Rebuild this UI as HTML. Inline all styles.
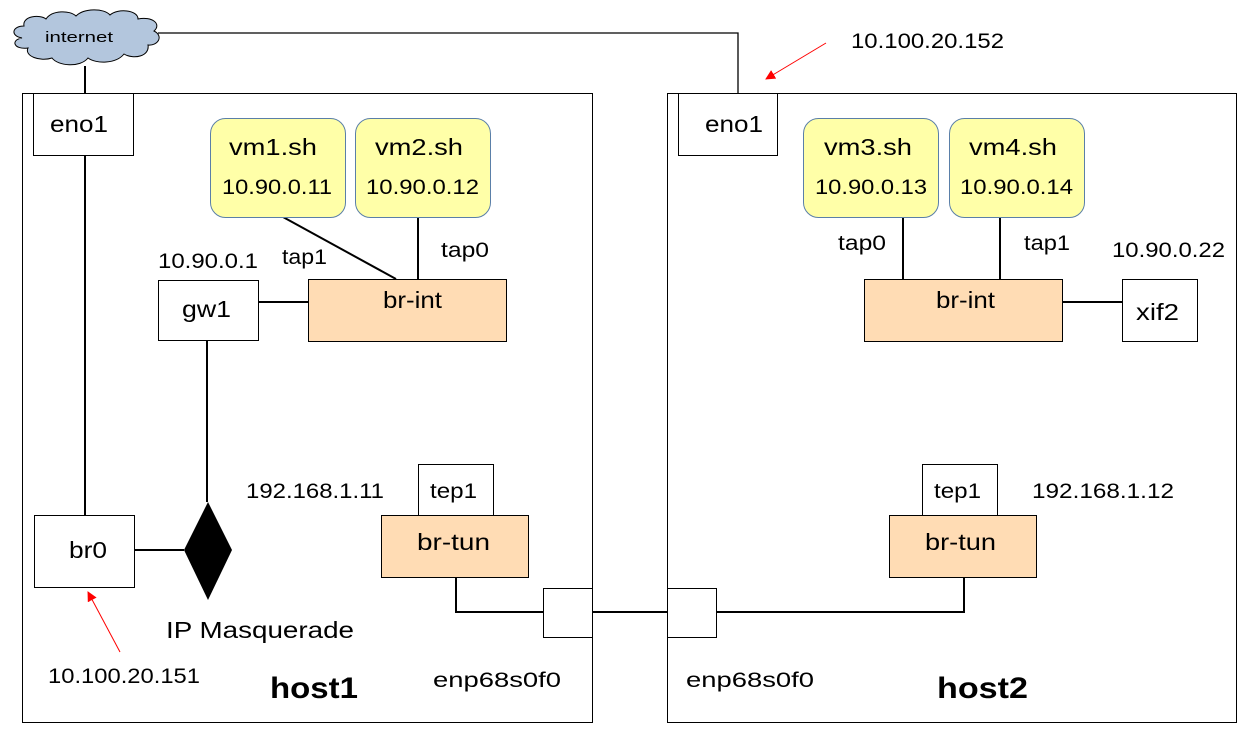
<!DOCTYPE html>
<html><head><style>body{margin:0;background:#fff}svg{display:block}text{font-family:"Liberation Sans",Arial,sans-serif;fill:#000}</style></head>
<body>
<svg width="1252" height="738" viewBox="0 0 1252 738" xmlns="http://www.w3.org/2000/svg">
<defs><marker id="ar" markerWidth="10" markerHeight="10" refX="9" refY="5" orient="auto" markerUnits="userSpaceOnUse"><path d="M0,0 L10,5 L0,10 z" fill="#f00"/></marker></defs>
<g fill="none" stroke="#000" stroke-width="1">
<rect x="22.5" y="93.5" width="570" height="629"/>
<rect x="667.5" y="93.5" width="569" height="629"/>
</g>
<g stroke="#000" stroke-width="2" fill="none">
<polyline points="158,33 738,33 738,93" stroke-width="1.3"/>
<line x1="85" y1="66" x2="85" y2="93"/>
<line x1="85" y1="155" x2="85" y2="515"/>
<line x1="134" y1="550" x2="184" y2="550"/>
<line x1="207" y1="340" x2="207" y2="502"/>
<line x1="258" y1="302" x2="308" y2="302"/>
<line x1="283" y1="217" x2="396" y2="279"/>
<line x1="418" y1="217" x2="418" y2="279"/>
<polyline points="456,577 456,612 543,612"/>
<line x1="592" y1="612" x2="667" y2="612"/>
<polyline points="716,612 964,612 964,577"/>
<line x1="903" y1="217" x2="903" y2="279"/>
<line x1="1000" y1="217" x2="1000" y2="279"/>
<line x1="1062" y1="302" x2="1122" y2="302"/>
</g>
<path d="M22,38 C10,36 12,26 24,26 C22,16 40,14 46,19 C52,10 70,10 76,16 C84,8 104,8 110,15 C118,8 138,10 138,19 C152,16 162,24 154,31 C164,36 158,46 148,45 C150,56 134,60 124,54 C116,64 96,64 88,58 C80,68 58,66 52,58 C40,62 24,56 28,48 C14,50 10,40 22,38 Z" fill="#b3c6dd" stroke="#000" stroke-width="1"/>
<text x="45" y="42" font-size="15" textLength="68" lengthAdjust="spacingAndGlyphs">internet</text>
<g stroke="#000" stroke-width="1" fill="#fff">
<rect x="33.5" y="93.5" width="100" height="62"/>
<rect x="678.5" y="93.5" width="99" height="62"/>
<rect x="34.5" y="515.5" width="100" height="72"/>
<rect x="158.5" y="280.5" width="100" height="60"/>
<rect x="1122.5" y="279.5" width="75" height="62"/>
<rect x="418.5" y="464.5" width="75" height="51"/>
<rect x="922.5" y="464.5" width="75" height="51"/>
<rect x="543.5" y="588.5" width="49" height="49"/>
<rect x="667.5" y="588.5" width="49" height="49"/>
</g>
<g stroke="#000" stroke-width="1" fill="#ffdcb4">
<rect x="308.5" y="279.5" width="198" height="62"/>
<rect x="864.5" y="279.5" width="198" height="62"/>
<rect x="381.5" y="515.5" width="147" height="62"/>
<rect x="889.5" y="515.5" width="147" height="62"/>
</g>
<g stroke="#5a7fa8" stroke-width="1" fill="#ffffa8">
<rect x="210.5" y="118.5" width="135" height="99" rx="15"/>
<rect x="355.5" y="118.5" width="135" height="99" rx="15"/>
<rect x="803.5" y="118.5" width="135" height="99" rx="15"/>
<rect x="949.5" y="118.5" width="135" height="99" rx="15"/>
</g>
<path d="M208,502 L232,550 L208,600 L184,550 Z" fill="#000"/>
<g stroke="#f00" stroke-width="1">
<line x1="826" y1="43" x2="766" y2="79" marker-end="url(#ar)"/>
<line x1="120" y1="652" x2="88" y2="592" marker-end="url(#ar)"/>
</g>
<g font-size="23" lengthAdjust="spacingAndGlyphs">
<text x="50" y="132" textLength="58" lengthAdjust="spacingAndGlyphs">eno1</text>
<text x="705" y="132" textLength="58" lengthAdjust="spacingAndGlyphs">eno1</text>
<text x="69" y="558" textLength="38" lengthAdjust="spacingAndGlyphs">br0</text>
<text x="182" y="317" textLength="49" lengthAdjust="spacingAndGlyphs">gw1</text>
<text x="1136" y="320" textLength="43" lengthAdjust="spacingAndGlyphs">xif2</text>
<text x="383" y="308" textLength="59" lengthAdjust="spacingAndGlyphs">br-int</text>
<text x="936" y="308" textLength="59" lengthAdjust="spacingAndGlyphs">br-int</text>
<text x="417" y="550" textLength="73" lengthAdjust="spacingAndGlyphs">br-tun</text>
<text x="925" y="550" textLength="71" lengthAdjust="spacingAndGlyphs">br-tun</text>
<text x="229" y="155" textLength="88" lengthAdjust="spacingAndGlyphs">vm1.sh</text>
<text x="375" y="155" textLength="88" lengthAdjust="spacingAndGlyphs">vm2.sh</text>
<text x="824" y="155" textLength="88" lengthAdjust="spacingAndGlyphs">vm3.sh</text>
<text x="969" y="155" textLength="88" lengthAdjust="spacingAndGlyphs">vm4.sh</text>
</g>
<g font-size="21">
<text x="222" y="194" textLength="110" lengthAdjust="spacingAndGlyphs">10.90.0.11</text>
<text x="366" y="194" textLength="113" lengthAdjust="spacingAndGlyphs">10.90.0.12</text>
<text x="815" y="194" textLength="112" lengthAdjust="spacingAndGlyphs">10.90.0.13</text>
<text x="960" y="194" textLength="113" lengthAdjust="spacingAndGlyphs">10.90.0.14</text>
<text x="430" y="498" textLength="47" lengthAdjust="spacingAndGlyphs">tep1</text>
<text x="934" y="498" textLength="47" lengthAdjust="spacingAndGlyphs">tep1</text>
<text x="282" y="264" textLength="45" lengthAdjust="spacingAndGlyphs">tap1</text>
<text x="441" y="257" textLength="48" lengthAdjust="spacingAndGlyphs">tap0</text>
<text x="838" y="250" textLength="48" lengthAdjust="spacingAndGlyphs">tap0</text>
<text x="1024" y="250" textLength="46" lengthAdjust="spacingAndGlyphs">tap1</text>
<text x="158" y="268" textLength="100" lengthAdjust="spacingAndGlyphs">10.90.0.1</text>
<text x="1112" y="257" textLength="113" lengthAdjust="spacingAndGlyphs">10.90.0.22</text>
<text x="246" y="498" textLength="138" lengthAdjust="spacingAndGlyphs">192.168.1.11</text>
<text x="1032" y="498" textLength="142" lengthAdjust="spacingAndGlyphs">192.168.1.12</text>
<text x="851" y="48" textLength="153" lengthAdjust="spacingAndGlyphs">10.100.20.152</text>
<text x="48" y="683" textLength="152" lengthAdjust="spacingAndGlyphs">10.100.20.151</text>
<text x="433" y="687" textLength="128" lengthAdjust="spacingAndGlyphs">enp68s0f0</text>
<text x="686" y="687" textLength="128" lengthAdjust="spacingAndGlyphs">enp68s0f0</text>
</g>
<text x="166" y="638" font-size="23" textLength="188" lengthAdjust="spacingAndGlyphs">IP Masquerade</text>
<text x="270" y="698" font-size="30" font-weight="bold" textLength="88" lengthAdjust="spacingAndGlyphs">host1</text>
<text x="937" y="698" font-size="30" font-weight="bold" textLength="91" lengthAdjust="spacingAndGlyphs">host2</text>
</svg>
</body></html>
